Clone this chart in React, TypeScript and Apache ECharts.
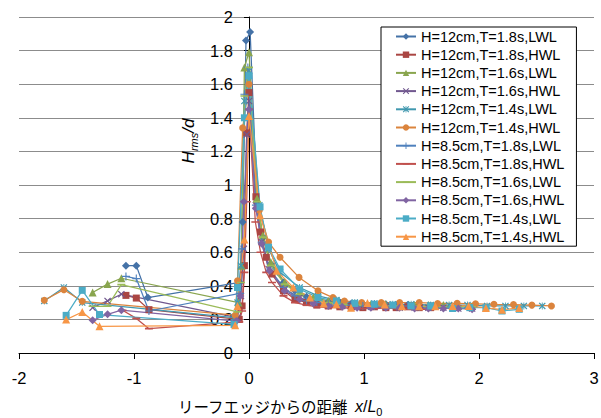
import React, { useEffect, useRef } from 'react';
import * as echarts from 'echarts';

const seriesNames = [
  'H=12cm,T=1.8s,LWL',
  'H=12cm,T=1.8s,HWL',
  'H=12cm,T=1.6s,LWL',
  'H=12cm,T=1.6s,HWL',
  'H=12cm,T=1.4s,LWL',
  'H=12cm,T=1.4s,HWL',
  'H=8.5cm,T=1.8s,LWL',
  'H=8.5cm,T=1.8s,HWL',
  'H=8.5cm,T=1.6s,LWL',
  'H=8.5cm,T=1.6s,HWL',
  'H=8.5cm,T=1.4s,LWL',
  'H=8.5cm,T=1.4s,HWL',
];

const xTicks = [-2, -1, 0, 1, 2, 3];
const yTicks = [0, 0.2, 0.4, 0.6, 0.8, 1, 1.2, 1.4, 1.6, 1.8, 2];

const s1x = [-1.07, -0.98, -0.88, -0.08, -0.055, -0.026, 0.01, 0.07, 0.12, 0.19, 0.3, 0.4, 0.5, 0.59, 0.69, 0.79, 0.89, 0.99, 1.09, 1.19, 1.28, 1.38, 1.48, 1.58];
const s1y = [0.52, 0.52, 0.33, 0.42, 0.78, 1.86, 1.91, 0.9, 0.69, 0.53, 0.42, 0.37, 0.335, 0.315, 0.305, 0.3, 0.295, 0.29, 0.29, 0.29, 0.285, 0.285, 0.285, 0.28];

const s2x = [-1.07, -0.98, -0.87, -0.085, -0.06, -0.04, -0.02, 0.0, 0.06, 0.1, 0.15, 0.2, 0.3, 0.4, 0.5, 0.59, 0.69, 0.79, 0.89, 0.99, 1.09, 1.19, 1.28, 1.38, 1.48, 1.58];
const s2y = [0.343, 0.327, 0.258, 0.2, 0.28, 0.52, 1.31, 1.55, 0.93, 0.72, 0.57, 0.47, 0.37, 0.32, 0.3, 0.285, 0.28, 0.275, 0.275, 0.27, 0.275, 0.27, 0.27, 0.275, 0.27, 0.27];

const s3x = [-1.36, -1.23, -1.11, -0.09, -0.065, -0.04, 0.0, 0.07, 0.12, 0.19, 0.31, 0.44, 0.56, 0.69, 0.81, 0.94, 1.06, 1.19, 1.31, 1.44, 1.56, 1.69, 1.82, 1.94];
const s3y = [0.36, 0.41, 0.445, 0.3, 0.52, 1.7, 1.79, 0.92, 0.7, 0.54, 0.42, 0.36, 0.33, 0.31, 0.3, 0.295, 0.29, 0.29, 0.29, 0.285, 0.285, 0.285, 0.28, 0.28];

const s4x = [-1.36, -1.23, -1.11, -0.1, -0.07, -0.045, -0.02, 0.0, 0.06, 0.11, 0.17, 0.31, 0.44, 0.56, 0.69, 0.81, 0.94, 1.06, 1.19, 1.31, 1.44, 1.56, 1.69, 1.82, 1.94];
const s4y = [0.27, 0.31, 0.35, 0.21, 0.34, 0.62, 1.3, 1.5, 0.88, 0.66, 0.5, 0.38, 0.33, 0.3, 0.29, 0.28, 0.275, 0.275, 0.275, 0.27, 0.27, 0.27, 0.27, 0.265, 0.265];

const s5x = [-1.78, -1.61, -1.45, -0.13, -0.1, -0.07, -0.04, 0.0, 0.09, 0.17, 0.27, 0.44, 0.6, 0.76, 0.92, 1.09, 1.25, 1.41, 1.58, 1.74, 1.9, 2.07, 2.23, 2.39, 2.55];
const s5y = [0.31, 0.39, 0.3, 0.21, 0.3, 0.52, 1.5, 1.68, 0.88, 0.62, 0.48, 0.39, 0.34, 0.315, 0.3, 0.295, 0.29, 0.29, 0.285, 0.285, 0.285, 0.28, 0.28, 0.28, 0.28];

const s6x = [-1.78, -1.61, -1.45, -0.12, -0.1, -0.055, 0.0, 0.09, 0.17, 0.27, 0.435, 0.6, 0.73, 0.83, 0.98, 1.15, 1.31, 1.48, 1.64, 1.81, 1.97, 2.13, 2.3, 2.46, 2.63];
const s6y = [0.314, 0.377, 0.308, 0.225, 0.43, 1.34, 1.6, 0.85, 0.66, 0.57, 0.45, 0.37, 0.33, 0.31, 0.3, 0.3, 0.3, 0.3, 0.295, 0.296, 0.293, 0.29, 0.288, 0.285, 0.28];

const s7x = [-1.07, -0.98, -0.87, -0.08, -0.06, -0.04, -0.01, 0.06, 0.11, 0.18, 0.3, 0.4, 0.5, 0.59, 0.69, 0.79, 0.89, 0.99, 1.09, 1.19, 1.28, 1.38, 1.48, 1.58];
const s7y = [0.456, 0.443, 0.25, 0.355, 0.62, 1.54, 1.7, 0.88, 0.66, 0.5, 0.39, 0.34, 0.31, 0.3, 0.29, 0.285, 0.285, 0.28, 0.28, 0.28, 0.28, 0.28, 0.275, 0.275];

const s8x = [-1.1, -0.98, -0.87, -0.085, -0.06, -0.04, -0.02, 0.0, 0.055, 0.1, 0.15, 0.2, 0.3, 0.4, 0.5, 0.59, 0.69, 0.79, 0.89, 0.99, 1.09, 1.19, 1.28, 1.38, 1.48, 1.58];
const s8y = [0.254, 0.206, 0.145, 0.185, 0.25, 0.48, 0.9, 1.45, 0.78, 0.6, 0.48, 0.42, 0.34, 0.3, 0.285, 0.275, 0.27, 0.27, 0.265, 0.265, 0.265, 0.265, 0.265, 0.26, 0.26, 0.26];

const s9x = [-1.36, -1.23, -1.11, -0.1, -0.07, -0.04, 0.0, 0.07, 0.12, 0.19, 0.31, 0.44, 0.56, 0.69, 0.81, 0.94, 1.06, 1.19, 1.31, 1.44, 1.56, 1.69, 1.82, 1.94];
const s9y = [0.278, 0.278, 0.407, 0.245, 0.42, 1.53, 1.7, 0.9, 0.69, 0.52, 0.41, 0.35, 0.32, 0.3, 0.29, 0.285, 0.28, 0.28, 0.28, 0.28, 0.275, 0.275, 0.275, 0.275];

const s10x = [-1.36, -1.23, -1.11, -0.11, -0.075, -0.045, 0.0, 0.06, 0.11, 0.18, 0.31, 0.44, 0.56, 0.69, 0.81, 0.94, 1.06, 1.19, 1.31, 1.44, 1.56, 1.69, 1.82, 1.94];
const s10y = [0.195, 0.23, 0.255, 0.19, 0.34, 0.9, 1.45, 0.86, 0.65, 0.49, 0.37, 0.32, 0.295, 0.28, 0.275, 0.27, 0.27, 0.27, 0.27, 0.265, 0.265, 0.265, 0.265, 0.26];

const s11x = [-1.59, -1.45, -1.3, -0.13, -0.1, -0.04, 0.0, 0.096, 0.17, 0.27, 0.44, 0.6, 0.76, 0.92, 1.09, 1.25, 1.41, 1.58, 1.77, 1.92, 2.06, 2.2, 2.35];
const s11y = [0.224, 0.373, 0.229, 0.17, 0.39, 1.4, 1.65, 0.87, 0.63, 0.5, 0.38, 0.33, 0.31, 0.295, 0.29, 0.285, 0.28, 0.28, 0.265, 0.27, 0.27, 0.25, 0.26];

const s12x = [-1.59, -1.45, -1.3, -0.12, -0.1, -0.04, 0.0, 0.096, 0.24, 0.385, 0.53, 0.65, 0.76, 0.887, 1.03, 1.18, 1.33, 1.48, 1.62, 1.77, 1.91, 2.06, 2.2, 2.35];
const s12y = [0.199, 0.244, 0.159, 0.165, 0.28, 0.675, 1.41, 0.82, 0.49, 0.39, 0.33, 0.294, 0.29, 0.27, 0.298, 0.288, 0.278, 0.278, 0.278, 0.28, 0.28, 0.268, 0.258, 0.268];

const colors = ['#4572A7', '#AA4643', '#89A54E', '#71588F', '#4198AF', '#DB843D', '#4F81BD', '#C0504D', '#9BBB59', '#8064A2', '#4BACC6', '#F79646'];

const X_PATH = 'path://M1.2,0L5,3.8L8.8,0L10,1.2L6.2,5L10,8.8L8.8,10L5,6.2L1.2,10L0,8.8L3.8,5L0,1.2Z';
const STAR_PATH = 'path://M1.2,0L5,3.8L8.8,0L10,1.2L6.2,5L10,8.8L8.8,10L5,6.2L1.2,10L0,8.8L3.8,5L0,1.2Z M4.4,0L5.6,0L5.6,10L4.4,10Z';
const PLUS_PATH = 'path://M4.3,0L5.7,0L5.7,4.3L10,4.3L10,5.7L5.7,5.7L5.7,10L4.3,10L4.3,5.7L0,5.7L0,4.3L4.3,4.3Z';
const DASH_PATH = 'path://M0,0L0.01,0L0,0.01Z M0,4L10,4L10,6L0,6Z M10,10L9.99,10L10,9.99Z';

const symbols = ['diamond', 'rect', 'triangle', X_PATH, STAR_PATH, 'circle', PLUS_PATH, DASH_PATH, DASH_PATH, 'diamond', 'rect', 'triangle'];
const symbolSizes = [8, 7, 8, 7, 7, 7, 8, 8, 8, 8, 7, 8];

const FONT = 'Liberation Sans';
const GRID_LEFT = 19;
const GRID_RIGHT = 7;
const CHART_W = 601;

export default function App() {
  const ref = useRef<HTMLDivElement>(null);
  useEffect(() => {
    if (!ref.current) return;
    const chart = echarts.init(ref.current, null, { renderer: 'svg' });
    const xs = [s1x, s2x, s3x, s4x, s5x, s6x, s7x, s8x, s9x, s10x, s11x, s12x];
    const ys = [s1y, s2y, s3y, s4y, s5y, s6y, s7y, s8y, s9y, s10y, s11y, s12y];
    const series = seriesNames.map((name, i) => ({
      name,
      type: 'line',
      data: xs[i].map((x, j) => [x, ys[i][j]]),
      symbol: symbols[i],
      symbolSize: symbolSizes[i],
      showSymbol: true,
      showAllSymbol: true,
      lineStyle: { color: colors[i], width: 1.25 },
      itemStyle: { color: colors[i] },
      emphasis: { disabled: true },
    }));
    // y axis sits at x = 0 with its labels: shift it from the grid's left edge
    const plotW = CHART_W - GRID_LEFT - GRID_RIGHT;
    const xMin = xTicks[0];
    const xMax = xTicks[xTicks.length - 1];
    const zeroShift = ((0 - xMin) / (xMax - xMin)) * plotW;
    chart.setOption({
      animation: false,
      backgroundColor: '#fff',
      grid: { left: GRID_LEFT, right: GRID_RIGHT, top: 17, bottom: 65, containLabel: false, outerBoundsMode: 'none' },
      xAxis: {
        type: 'value',
        min: xMin,
        max: xMax,
        interval: 1,
        axisLine: { show: true, onZero: true, lineStyle: { color: '#000', width: 1 } },
        axisTick: { show: true, inside: false, length: 6, lineStyle: { color: '#000' } },
        axisLabel: { color: '#000', fontFamily: FONT, fontSize: 16.5, margin: 16 },
        splitLine: { show: false },
      },
      yAxis: {
        type: 'value',
        position: 'left',
        offset: -zeroShift,
        min: yTicks[0],
        max: yTicks[yTicks.length - 1],
        interval: 0.2,
        axisLine: { show: true, onZero: false, lineStyle: { color: '#000', width: 1 } },
        axisTick: { show: true, inside: false, length: 5, lineStyle: { color: '#000' } },
        axisLabel: { color: '#000', fontFamily: FONT, fontSize: 16.5, margin: 16 },
        splitLine: { show: true, lineStyle: { color: '#8c8c8c', width: 1 } },
      },
      legend: {
        data: seriesNames,
        orient: 'vertical',
        left: 381,
        top: 27,
        padding: [2, 12, 2, 14],
        itemGap: 3.2,
        itemWidth: 20,
        itemHeight: 8,
        backgroundColor: '#fff',
        borderColor: '#000',
        borderWidth: 1,
        borderRadius: 0,
        textStyle: { color: '#000', fontFamily: FONT, fontSize: 14.5, lineHeight: 14 },
      },
      graphic: [
        {
          type: 'text',
          x: 188,
          y: 141,
          rotation: Math.PI / 2,
          z: 100,
          style: {
            text: '{i|H}{s|rms}{i|/d}',
            align: 'center',
            verticalAlign: 'middle',
            fill: '#000',
            rich: {
              i: { fontFamily: FONT, fontStyle: 'italic', fontSize: 17, lineHeight: 22, verticalAlign: 'middle', fill: '#000' },
              s: { fontFamily: FONT, fontStyle: 'italic', fontSize: 11, lineHeight: 12, verticalAlign: 'bottom', fill: '#000' },
            },
          },
        },
        {
          type: 'text',
          x: 280,
          y: 406,
          z: 100,
          style: {
            text: '{n|リーフエッジからの距離  }{i|x}{r|/}{i|L}{s|0}',
            align: 'center',
            verticalAlign: 'middle',
            fill: '#000',
            rich: {
              n: { fontFamily: 'Noto Sans CJK JP', fontSize: 15.5, lineHeight: 22, verticalAlign: 'middle', fill: '#000' },
              r: { fontFamily: FONT, fontSize: 16, lineHeight: 22, verticalAlign: 'middle', fill: '#000' },
              i: { fontFamily: FONT, fontStyle: 'italic', fontSize: 16, lineHeight: 22, verticalAlign: 'middle', fill: '#000' },
              s: { fontFamily: FONT, fontSize: 11, lineHeight: 12, verticalAlign: 'bottom', fill: '#000' },
            },
          },
        },
      ],
      series,
    });
    return () => chart.dispose();
  }, []);
  return (
    <div
      ref={ref}
      style={{ position: 'fixed', left: 0, top: 0, width: 601, height: 418, background: '#fff' }}
    />
  );
}
